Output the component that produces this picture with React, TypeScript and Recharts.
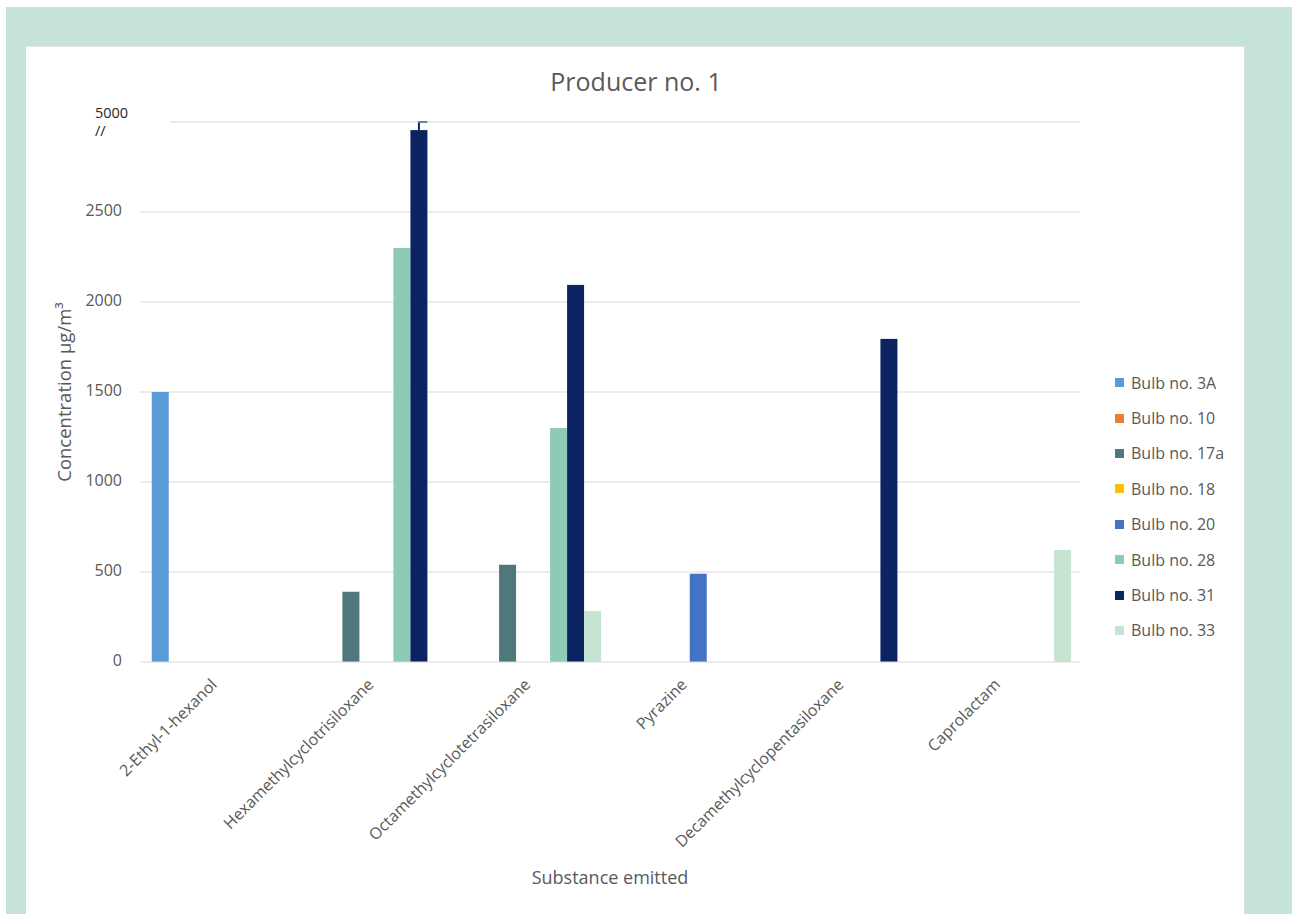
import React from "react";
import {
  BarChart,
  Bar,
  XAxis,
  YAxis,
  CartesianGrid,
  Legend,
  ReferenceLine,
} from "recharts";

// Categories (substances)
const categories = [
  "2-Ethyl-1-hexanol",
  "Hexamethylcyclotrisiloxane",
  "Octamethylcyclotetrasiloxane",
  "Pyrazine",
  "Decamethylcyclopentasiloxane",
  "Caprolactam",
];

// Series values (µg/m³, as plotted; the axis is broken above 2500 -> top reads 5000)
const bulb3A = [1500, null, null, null, null, null];
const bulb10 = [null, null, null, null, null, null];
const bulb17a = [null, 390, 540, null, null, null];
const bulb18 = [null, null, null, null, null, null];
const bulb20 = [null, null, null, 490, null, null];
const bulb28 = [null, 2300, 1300, null, null, null];
const bulb31 = [null, 2955, 2095, null, 1795, null];
const bulb33 = [null, null, 283, null, null, 622];

const seriesNames = [
  "Bulb no. 3A",
  "Bulb no. 10",
  "Bulb no. 17a",
  "Bulb no. 18",
  "Bulb no. 20",
  "Bulb no. 28",
  "Bulb no. 31",
  "Bulb no. 33",
];
const seriesValues = [bulb3A, bulb10, bulb17a, bulb18, bulb20, bulb28, bulb31, bulb33];
const seriesColors = [
  "#5b9bd5",
  "#ed7d31",
  "#4f777c",
  "#ffc000",
  "#4472c4",
  "#8ecab5",
  "#0b2461",
  "#c6e4d2",
];

// Y ticks; the top tick sits at the axis break and is labelled 5000
const yTicks = [0, 500, 1000, 1500, 2000, 2500, 3000];
const yTickLabels = ["0", "500", "1000", "1500", "2000", "2500", "5000"];
const breakTick = 3000;
const brokenCategories = ["Hexamethylcyclotrisiloxane"];

const data = categories.map((name, i) => {
  const row: Record<string, any> = { name };
  seriesNames.forEach((s, j) => {
    row[s] = seriesValues[j][i];
  });
  return row;
});

const FONT = "'Open Sans', sans-serif";
const GREY = "#595959";

const YTick = (props: any) => {
  const { x, y, payload } = props;
  const idx = yTicks.indexOf(payload.value);
  const label = yTickLabels[idx];
  if (payload.value === breakTick) {
    return (
      <g>
        <text x={x - 37} y={y - 8} fontSize={14.5} fill="#262626" fontFamily={FONT} dominantBaseline="middle">
          {label}
        </text>
        <text x={x - 37} y={y + 10} fontSize={14.5} fill="#262626" fontFamily={FONT} dominantBaseline="middle">
          //
        </text>
      </g>
    );
  }
  return (
    <text x={x - 10} y={y} textAnchor="end" dominantBaseline="middle" fontSize={16} fill={GREY} fontFamily={FONT}>
      {label}
    </text>
  );
};

const XTick = (props: any) => {
  const { x, y, payload } = props;
  const ax = x - 10;
  const ay = y + 6;
  return (
    <text
      x={ax}
      y={ay}
      textAnchor="end"
      dominantBaseline="hanging"
      transform={`rotate(-45, ${ax}, ${ay})`}
      fontSize={16}
      fill={GREY}
      fontFamily={FONT}
    >
      {payload.value}
    </text>
  );
};

const BrokenBar = (props: any) => {
  const { x, y, width, height, fill, payload } = props;
  if (height == null || width == null) return null;
  const isBroken = brokenCategories.includes(payload?.name);
  return (
    <g>
      <rect x={x} y={y} width={width} height={height} fill={fill} />
      {isBroken && (
        <path
          d={`M ${x + width / 2} ${y} L ${x + width / 2} ${y - 8} L ${x + width} ${y - 8}`}
          stroke={fill}
          strokeWidth={2}
          fill="none"
        />
      )}
    </g>
  );
};

const LegendContent = () => (
  <div style={{ width: 150, paddingLeft: 35, boxSizing: "border-box", fontFamily: FONT }}>
    {seriesNames.map((s, i) => (
      <div key={s} style={{ height: 35.4, display: "flex", alignItems: "center" }}>
        <span style={{ width: 9, height: 9, background: seriesColors[i], display: "inline-block", marginRight: 7, flexShrink: 0 }} />
        <span style={{ fontSize: 16, color: GREY, whiteSpace: "nowrap" }}>{s}</span>
      </div>
    ))}
  </div>
);

export default function App() {
  return (
    <div style={{ position: "absolute", left: 0, top: 0, width: 1292, height: 914, background: "#ffffff", overflow: "hidden" }}>
      <div style={{ position: "absolute", left: 6, top: 7, width: 1286, height: 907, background: "#c6e3da" }} />
      <div
        style={{
          position: "absolute",
          left: 26,
          top: 46,
          width: 1219,
          height: 870,
          background: "#ffffff",
          borderTop: "1px solid #e4e4e4",
          borderRight: "1px solid #e0e0e0",
          boxSizing: "border-box",
        }}
      />
      <div
        style={{
          position: "absolute",
          left: 0,
          top: 64,
          width: 1272,
          textAlign: "center",
          fontFamily: FONT,
          fontSize: 25,
          lineHeight: "34px",
          color: GREY,
        }}
      >
        Producer no. 1
      </div>
      <div style={{ position: "absolute", left: 0, top: 0 }}>
        <BarChart
          width={1292}
          height={914}
          data={data}
          margin={{ top: 122, right: 62, bottom: 26, left: 40 }}
          barCategoryGap="7.5%"
          barGap={0}
        >
          <CartesianGrid vertical={false} stroke="#d9d9d9" horizontalValues={[500, 1000, 1500, 2000, 2500]} />
          <ReferenceLine
            y={breakTick}
            stroke="#d9d9d9"
            ifOverflow="extendDomain"
            shape={(p: any) => (
              <line x1={p.x1 + 30} y1={p.y1} x2={p.x2} y2={p.y2} stroke="#d9d9d9" strokeWidth={1} />
            )}
          />
          <XAxis
            dataKey="name"
            height={226}
            interval={0}
            tick={<XTick />}
            tickLine={false}
            axisLine={{ stroke: "#d9d9d9" }}
            label={{ value: "Substance emitted", position: "insideBottom", offset: 4, fill: GREY, fontSize: 18, fontFamily: FONT }}
          />
          <YAxis
            width={100}
            domain={[0, 3000]}
            ticks={yTicks}
            interval={0}
            tick={<YTick />}
            tickLine={false}
            axisLine={false}
            label={{
              content: (p: any) => {
                const vb = p.viewBox || { x: 40, y: 122, width: 100, height: 540 };
                const cx = vb.x + 26;
                const cy = vb.y + vb.height / 2;
                return (
                  <text
                    x={cx}
                    y={cy}
                    transform={`rotate(-90, ${cx}, ${cy})`}
                    textAnchor="middle"
                    dominantBaseline="middle"
                    fontSize={18.5}
                    fill={GREY}
                    fontFamily={FONT}
                  >
                    Concentration µg/m³
                  </text>
                );
              },
            }}
          />
          <Legend
            layout="vertical"
            align="right"
            verticalAlign="top"
            wrapperStyle={{ top: 365 }}
            content={<LegendContent />}
          />
          {seriesNames.map((s, i) => (
            <Bar
              key={s}
              dataKey={s}
              fill={seriesColors[i]}
              isAnimationActive={false}
              shape={s === "Bulb no. 31" ? <BrokenBar /> : undefined}
            />
          ))}
        </BarChart>
      </div>
    </div>
  );
}
